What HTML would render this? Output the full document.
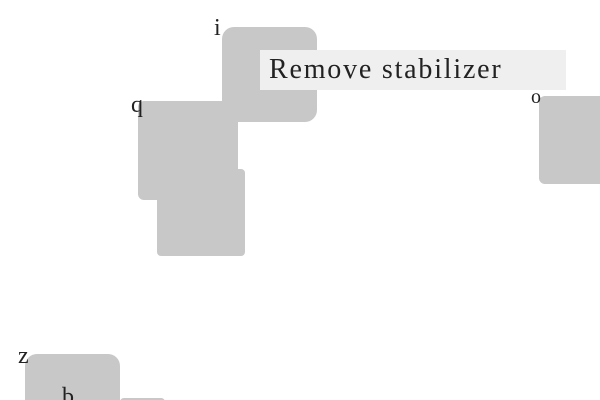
<!DOCTYPE html>
<html><head><style>
html,body{margin:0;width:600px;height:400px;overflow:hidden}
body{background:#fff;position:relative;font-family:"Liberation Serif",serif;color:#222}
.b{position:absolute;background:#c8c8c8}
.t{position:absolute;font-size:22px;line-height:1}
</style></head><body>
<div class="b" style="left:222px;top:27px;width:95px;height:95px;border-radius:12px"></div>
<div class="b" style="left:138px;top:101px;width:100px;height:99px;border-radius:6px"></div>
<div class="b" style="left:157px;top:169px;width:88px;height:87px;border-radius:4px"></div>
<div class="b" style="left:539px;top:96px;width:70px;height:88px;border-radius:6px"></div>
<div class="b" style="left:25px;top:354px;width:95px;height:60px;border-radius:12px"></div>
<div class="b" style="left:120px;top:398px;width:45px;height:10px;border-radius:4px"></div>
<div style="position:absolute;left:260px;top:50px;width:306px;height:40px;background:#efefef"></div>
<div class="t" style="left:269px;top:56px;font-size:28px;letter-spacing:1.8px">Remove stabilizer</div>
<div class="t" style="left:214px;top:16px;font-size:24px">i</div>
<div class="t" style="left:131px;top:93px;font-size:24px">q</div>
<div class="t" style="left:531px;top:87px;font-size:20px">o</div>
<div class="t" style="left:18px;top:344px;font-size:24px">z</div>
<div class="t" style="left:62px;top:385px;font-size:24px">b</div>
</body></html>
